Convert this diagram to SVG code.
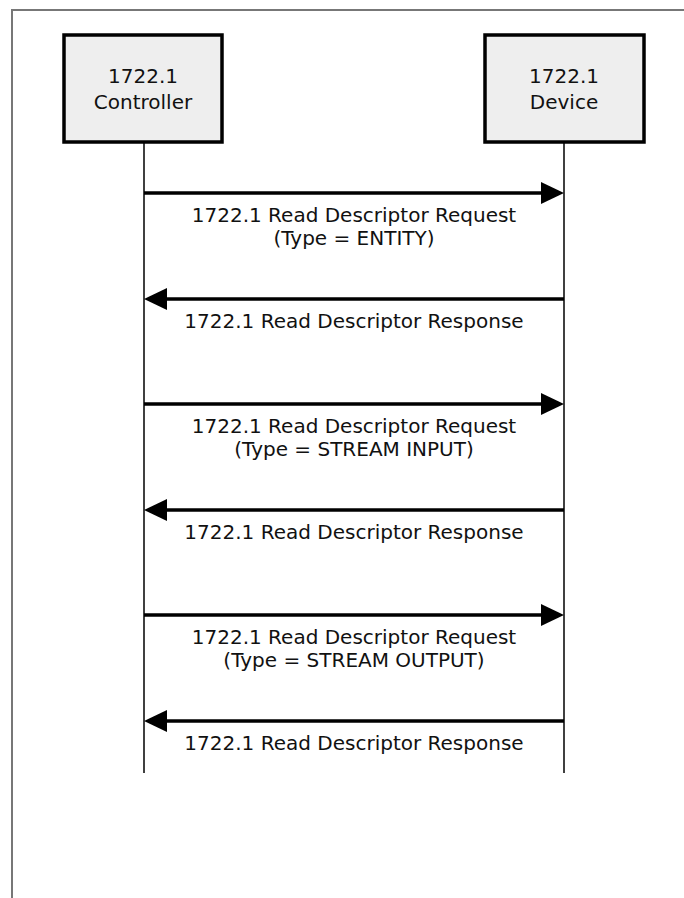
<svg xmlns="http://www.w3.org/2000/svg" width="684" height="898" viewBox="0 0 684 898">
  <style>
    text { font-family: "DejaVu Sans", "Noto Sans", sans-serif; font-size: 20px; fill: #111; text-anchor: middle; }
    .frame { fill: none; stroke: #777; stroke-width: 2; }
    .box { fill: #eeeeee; stroke: #000; stroke-width: 3.5; }
    .life { stroke: #000; stroke-width: 1.5; fill: none; }
    .msg { stroke: #000; stroke-width: 3.5; fill: none; }
    .head { fill: #000; stroke: none; }
  </style>

  <rect width="684" height="898" fill="#fff"/>
  <!-- outer frame, open to the right and bottom -->
  <path class="frame" d="M12,898 V10 H684"/>

  <g id="controller">
    <rect class="box" x="64" y="35" width="158" height="107"/>
    <text x="143" y="83">1722.1</text>
    <text x="143" y="109">Controller</text>
  </g>

  <g id="device">
    <rect class="box" x="485" y="35" width="159" height="107"/>
    <text x="564" y="83">1722.1</text>
    <text x="564" y="109">Device</text>
  </g>

  <g id="connectors">
    <!-- lifelines -->
    <line class="life" x1="144" y1="143" x2="144" y2="773"/>
    <line class="life" x1="564" y1="143" x2="564" y2="773"/>

    <!-- request: ENTITY -->
    <line class="msg" x1="144" y1="193" x2="543" y2="193"/>
    <polygon class="head" points="541,182 564,193 541,204"/>
    <!-- response -->
    <line class="msg" x1="165" y1="299" x2="564" y2="299"/>
    <polygon class="head" points="167,288 144,299 167,310"/>

    <!-- request: STREAM INPUT -->
    <line class="msg" x1="144" y1="404" x2="543" y2="404"/>
    <polygon class="head" points="541,393 564,404 541,415"/>
    <!-- response -->
    <line class="msg" x1="165" y1="510" x2="564" y2="510"/>
    <polygon class="head" points="167,499 144,510 167,521"/>

    <!-- request: STREAM OUTPUT -->
    <line class="msg" x1="144" y1="615" x2="543" y2="615"/>
    <polygon class="head" points="541,604 564,615 541,626"/>
    <!-- response -->
    <line class="msg" x1="165" y1="721" x2="564" y2="721"/>
    <polygon class="head" points="167,710 144,721 167,732"/>
  </g>

  <g id="labels">
    <text x="354" y="222">1722.1 Read Descriptor Request</text>
    <text x="354" y="245">(Type = ENTITY)</text>
    <text x="354" y="328">1722.1 Read Descriptor Response</text>

    <text x="354" y="433">1722.1 Read Descriptor Request</text>
    <text x="354" y="456">(Type = STREAM INPUT)</text>
    <text x="354" y="539">1722.1 Read Descriptor Response</text>

    <text x="354" y="644">1722.1 Read Descriptor Request</text>
    <text x="354" y="667">(Type = STREAM OUTPUT)</text>
    <text x="354" y="750">1722.1 Read Descriptor Response</text>
  </g>
</svg>
